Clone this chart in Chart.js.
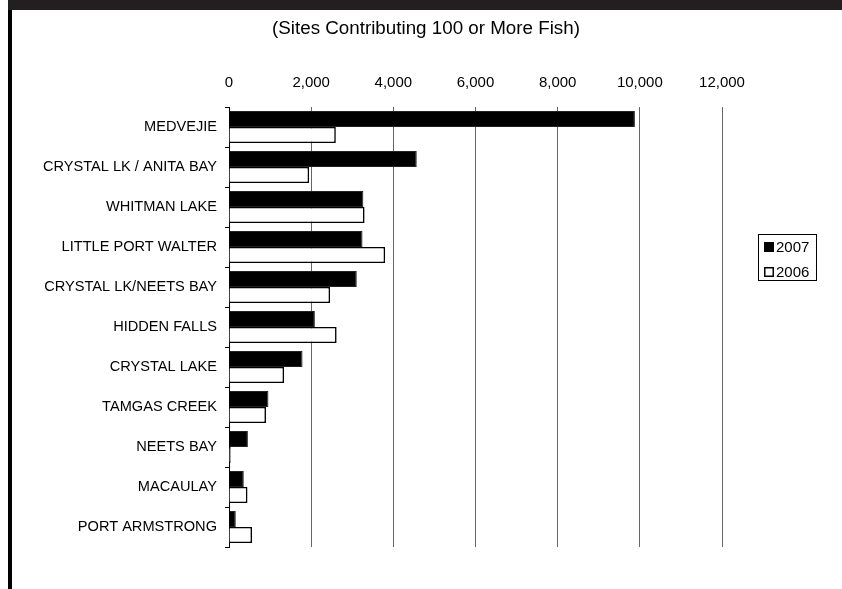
<!DOCTYPE html>
<html>
<head>
<meta charset="utf-8">
<script src="https://cdn.jsdelivr.net/npm/chart.js@4.4.0/dist/chart.umd.min.js"></script>
<style>
html,body{margin:0;padding:0;background:#fff;}
#wrap{position:relative;width:842px;height:589px;}
</style>
</head>
<body>
<div id="wrap"><canvas id="c" width="842" height="589"></canvas></div>
<script>
const titleText = '(Sites Contributing 100 or More Fish)';
const categories = ['MEDVEJIE','CRYSTAL LK / ANITA BAY','WHITMAN LAKE','LITTLE PORT WALTER','CRYSTAL LK/NEETS BAY','HIDDEN FALLS','CRYSTAL LAKE','TAMGAS CREEK','NEETS BAY','MACAULAY','PORT ARMSTRONG'];
const values2007 = [9880, 4570, 3270, 3250, 3110, 2090, 1790, 960, 460, 360, 165];
const values2006 = [2600, 1950, 3300, 3800, 2460, 2620, 1340, 900, 40, 450, 560];
const seriesNames = ['2007', '2006'];
const xTickValues = [0, 2000, 4000, 6000, 8000, 10000, 12000];

const FONT = "'Liberation Sans', Arial, sans-serif";

const framePlugin = {
  id: 'frame',
  beforeDraw(chart) {
    const ctx = chart.ctx;
    ctx.save();
    ctx.fillStyle = '#fff';
    ctx.fillRect(0, 0, chart.width, chart.height);
    ctx.fillStyle = '#231f20';
    ctx.fillRect(8, 0, chart.width - 8, 10);
    ctx.fillStyle = '#000';
    ctx.fillRect(8, 10, 4, chart.height - 10);
    ctx.fillStyle = '#000';
    ctx.font = '18.8px ' + FONT;
    ctx.textAlign = 'center';
    ctx.textBaseline = 'middle';
    ctx.fillText(titleText, 426, 29);
    ctx.restore();
  }
};

const legendPlugin = {
  id: 'boxLegend',
  afterDraw(chart) {
    const ctx = chart.ctx;
    ctx.save();
    ctx.strokeStyle = '#000';
    ctx.lineWidth = 1;
    ctx.strokeRect(758.5, 234.5, 58, 46);
    ctx.font = '15px ' + FONT;
    ctx.textBaseline = 'middle';
    ctx.textAlign = 'left';
    const ys = [247, 272];
    chart.data.datasets.forEach((ds, i) => {
      const y = ys[i];
      ctx.fillStyle = ds.backgroundColor;
      ctx.fillRect(764, y - 5, 10, 10);
      ctx.strokeStyle = '#000';
      ctx.lineWidth = 1.5;
      ctx.strokeRect(764.75, y - 4.25, 8.5, 8.5);
      ctx.fillStyle = '#000';
      ctx.fillText(ds.label, 776, y + 0.5);
    });
    ctx.restore();
  }
};

new Chart(document.getElementById('c'), {
  type: 'bar',
  data: {
    labels: categories,
    datasets: [
      { label: seriesNames[0], data: values2007, backgroundColor: '#000', borderColor: '#222', borderWidth: 1,
        categoryPercentage: 0.8, barPercentage: 1.0 },
      { label: seriesNames[1], data: values2006, backgroundColor: '#fff', borderColor: '#000', borderWidth: 1.6,
        categoryPercentage: 0.8, barPercentage: 1.0 }
    ]
  },
  options: {
    indexAxis: 'y',
    responsive: false,
    animation: false,
    layout: { padding: { top: 0, left: 12, right: 120, bottom: 42 } },
    plugins: {
      legend: { display: false },
      tooltip: { enabled: false },
      title: { display: false }
    },
    scales: {
      x: {
        type: 'linear', position: 'top', min: 0, max: 12000,
        afterBuildTicks: s => { s.ticks = xTickValues.map(v => ({ value: v })); },
        afterFit: s => { s.height = 107; },
        ticks: {
          color: '#000', padding: 15,
          font: { family: FONT, size: 15 },
          callback: v => Number(v).toLocaleString('en-US')
        },
        grid: { color: '#666', lineWidth: 1, drawTicks: false },
        border: { display: false }
      },
      y: {
        afterFit: s => { s.width = 217; },
        ticks: { color: '#000', padding: 8, font: { family: FONT, size: 14.6 } },
        grid: { display: true, drawOnChartArea: false, tickLength: 4, color: '#000', offset: true },
        border: { display: true, color: '#000', width: 1 }
      }
    }
  },
  plugins: [framePlugin, legendPlugin]
});
</script>
</body>
</html>
